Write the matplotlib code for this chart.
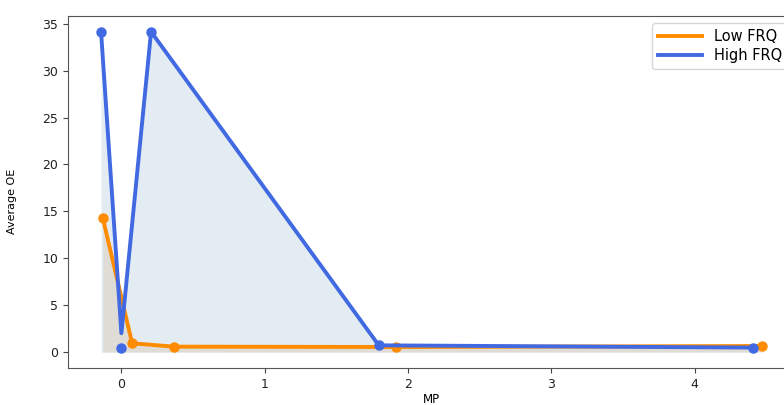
import matplotlib
matplotlib.use("Agg")
import matplotlib.pyplot as plt

# Low FRQ series (line and dots share the same points)
low_x = [-0.13, 0.075, 0.365, 1.917, 4.47]
low_y = [14.3, 0.93, 0.57, 0.53, 0.64]

# High FRQ series: the drawn line and the dots differ at x = 0
high_x = [-0.142, 0.0, 0.207, 1.796, 4.405]
high_line_y = [34.15, 2.0, 34.15, 0.71, 0.47]
high_dot_y = [34.15, 0.47, 34.15, 0.71, 0.47]

ORANGE = "#ff8c00"
BLUE = "#4169e1"

plt.rcParams['font.family'] = ['DejaVu Sans']

fig = plt.figure(figsize=(7.84, 4.05), dpi=100)
# axes runs a little past the right edge, like the cropped original
ax = fig.add_axes([68 / 784, 37 / 405, 727 / 784, 352.3 / 405])

ax.fill_between(high_x, high_line_y, 0, color="steelblue", alpha=0.15, linewidth=0, zorder=1)
ax.fill_between(low_x, low_y, 0, color="#dfdbd4", alpha=0.95, linewidth=0, zorder=1.5)

ax.plot(low_x, low_y, color=ORANGE, lw=2.8, label="Low FRQ", zorder=3)
ax.plot(low_x, low_y, 'o', color=ORANGE, ms=6.5, zorder=3)
ax.plot(high_x, high_line_y, color=BLUE, lw=2.8, label="High FRQ", zorder=4)
ax.plot(high_x, high_dot_y, 'o', color=BLUE, ms=6.5, zorder=4)

ax.set_yticks([0, 5, 10, 15, 20, 25, 30, 35])
ax.set_xticks([0, 1, 2, 3, 4])
ax.tick_params(labelsize=9, colors="#444444", labelcolor="#222222")
for s in ax.spines.values():
    s.set_color("#555555")

ax.set_xlabel("MP", fontsize=8.5)
ax.set_ylabel("Average OE", fontsize=8)
ax.xaxis.set_label_coords(0.5, -0.07)
ax.yaxis.set_label_coords(-0.0706, 0.474)

leg = ax.legend(loc="upper right", fontsize=10.5, handlelength=3, labelspacing=0.3)
leg.get_frame().set_edgecolor("#cccccc")

fig.savefig("out.png", dpi=100)
